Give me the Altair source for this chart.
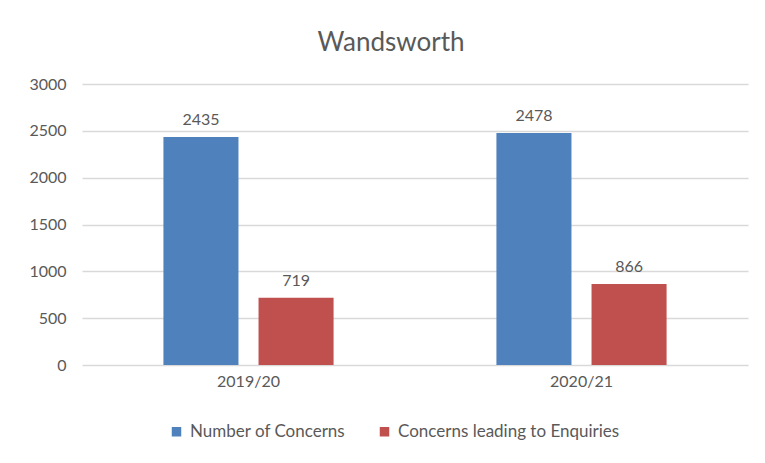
import altair as alt
import pandas as pd

years = ["2019/20", "2020/21"]
series = ["Number of Concerns", "Concerns leading to Enquiries"]
concerns = [2435, 2478]
enquiries = [719, 866]
colors = ["#4f81bd", "#c0504d"]

rows = []
for i, y in enumerate(years):
    rows.append({"year": y, "series": series[0], "value": concerns[i]})
    rows.append({"year": y, "series": series[1], "value": enquiries[i]})
df = pd.DataFrame(rows)

FONT = "Lato"
TXT = "#595959"

x = alt.X("year:N", title=None, sort=years,
          scale=alt.Scale(paddingInner=0.489, paddingOuter=0.2445),
          axis=alt.Axis(labelAngle=0, labelFontSize=16, labelColor=TXT, labelFont=FONT,
                        ticks=False, domain=False, labelPadding=8, grid=False))
xo = alt.XOffset("series:N", sort=series, scale=alt.Scale(paddingInner=0.211, paddingOuter=0))
y = alt.Y("value:Q", title=None,
          scale=alt.Scale(domain=[0, 3000], nice=False),
          axis=alt.Axis(values=[0, 500, 1000, 1500, 2000, 2500, 3000], format="d", labelFontSize=16,
                        labelColor=TXT, labelFont=FONT, ticks=False, domain=False,
                        labelPadding=16, gridColor="#d9d9d9", gridWidth=1.5))

bars = alt.Chart(df).mark_bar().encode(
    x=x, xOffset=xo, y=y,
    color=alt.Color("series:N", sort=series,
                    scale=alt.Scale(domain=series, range=colors),
                    legend=alt.Legend(title=None, orient="none", direction="horizontal",
                                      legendX=86, legendY=339, symbolType="square",
                                      symbolSize=90, symbolStrokeWidth=0,
                                      labelFontSize=17, labelColor=TXT, labelFont=FONT,
                                      labelLimit=400, columnPadding=30, labelOffset=5)),
)

labels = alt.Chart(df).mark_text(baseline="bottom", dy=-9, fontSize=16, color=TXT, font=FONT).encode(
    x=alt.X("year:N", sort=years), xOffset=alt.XOffset("series:N", sort=series),
    y=alt.Y("value:Q"), text=alt.Text("value:Q"),
)

chart = (bars + labels).properties(
    width=666, height=281,
    background="white",
    title=alt.TitleParams("Wandsworth", fontSize=26, font=FONT, color=TXT,
                          fontWeight="normal", anchor="middle", offset=20, dx=-24),
    autosize=alt.AutoSizeParams(type="none"),
    padding={"left": 74, "top": 76, "right": 9, "bottom": 80},
).configure_view(stroke=None).configure_axisX(grid=False)

chart.save("out.html", embed_options={"renderer": "svg", "actions": False})
